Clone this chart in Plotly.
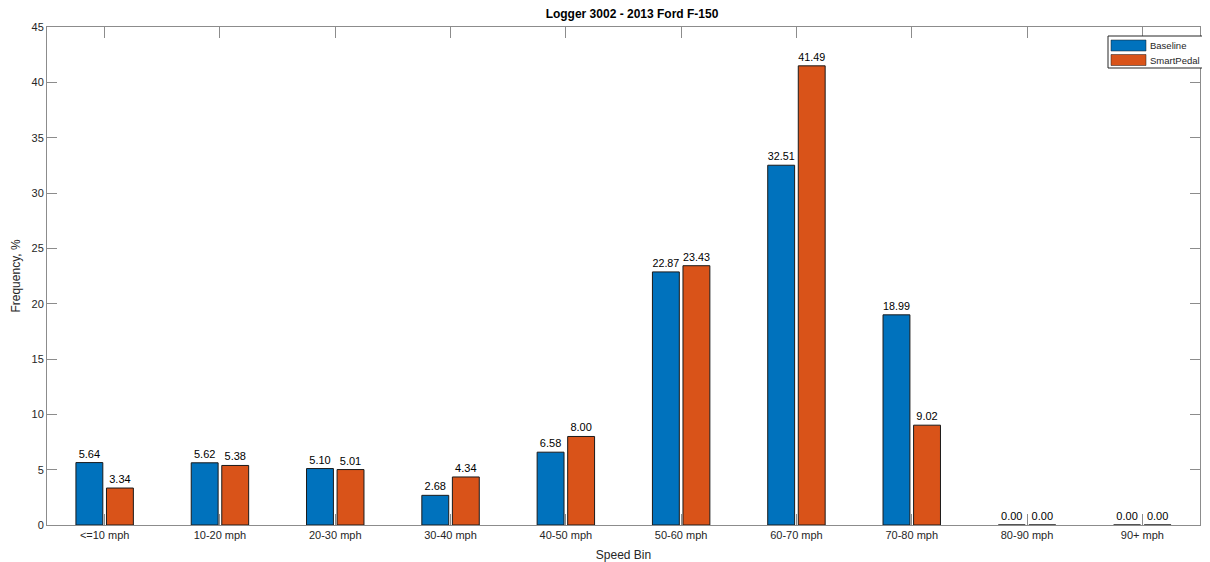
import plotly.graph_objects as go

# speed bins and frequency (%) per run
speed_bins = ['<=10 mph', '10-20 mph', '20-30 mph', '30-40 mph', '40-50 mph',
              '50-60 mph', '60-70 mph', '70-80 mph', '80-90 mph', '90+ mph']
baseline = [5.64, 5.62, 5.10, 2.68, 6.58, 22.87, 32.51, 18.99, 0.00, 0.00]
smartpedal = [3.34, 5.38, 5.01, 4.34, 8.00, 23.43, 41.49, 9.02, 0.00, 0.00]
series_names = ['Baseline', 'SmartPedal']
series_colors = ['#0072BD', '#D95319']

fig = go.Figure()
for name, vals, col in zip(series_names, [baseline, smartpedal], series_colors):
    fig.add_trace(go.Bar(
        x=speed_bins, y=vals, name=name,
        marker=dict(color=col, line=dict(color='#1a1a1a', width=1)),
        text=['%.2f' % v for v in vals], textposition='outside',
        textfont=dict(size=11, color='#000000'), cliponaxis=False,
        showlegend=False,
    ))

axis_common = dict(
    showline=True, linecolor='#8c8c8c', linewidth=1, mirror='allticks',
    ticks='inside', tickcolor='#8c8c8c', showgrid=False, zeroline=False,
    automargin=False,
    tickfont=dict(family='Liberation Sans, Arial', size=11, color='#262626'),
)

# page body has an 8px default margin, so the figure is shifted by OFF
OFF = 8
W, H = 1210 - OFF, 562 - OFF
L, R, T, B = 47 - OFF, 10, 27 - OFF, 37
pw, ph = W - L - R, H - T - B

def px(x):
    return (x - OFF - L) / pw

def py(y):
    return 1 - (y - OFF - T) / ph

# MATLAB-style legend box (wide swatches)
shapes = [dict(type='rect', xref='paper', yref='paper',
               x0=px(1108), x1=px(1205), y0=py(68), y1=py(36),
               line=dict(color='#262626', width=1), fillcolor='white', layer='above')]
annotations = []
for i, (name, col) in enumerate(zip(series_names, series_colors)):
    top = 40 + i * 14.5
    shapes.append(dict(type='rect', xref='paper', yref='paper',
                       x0=px(1111), x1=px(1146), y0=py(top + 11), y1=py(top),
                       line=dict(color='#1a1a1a', width=0.5), fillcolor=col, layer='above'))
    annotations.append(dict(xref='paper', yref='paper', x=px(1148), y=py(top + 5.5),
                            text=name, showarrow=False, xanchor='left', yanchor='middle',
                            font=dict(family='Liberation Sans, Arial', size=9.5,
                                      color='#262626')))

fig.update_layout(
    width=W, height=H,
    margin=dict(l=L, r=R, t=T, b=B),
    paper_bgcolor='white', plot_bgcolor='white',
    font=dict(family='Liberation Sans, Arial', size=11, color='#262626'),
    title=dict(text='<b>Logger 3002 - 2013 Ford F-150</b>',
               x=(632 - OFF) / W, xanchor='center',
               y=1 - (14 - OFF) / H, yanchor='middle',
               font=dict(size=12, color='#000000')),
    barmode='group', bargap=0.47, bargroupgap=0.12,
    xaxis=dict(title=dict(text='Speed Bin', standoff=11, font=dict(size=12)),
               range=[-0.5, 9.5], ticklen=11, **axis_common),
    yaxis=dict(title=dict(text='Frequency, %', standoff=8, font=dict(size=12)),
               range=[0, 45], dtick=5, ticklen=10, **axis_common),
    shapes=shapes, annotations=annotations,
)

fig.write_html('out.html')
